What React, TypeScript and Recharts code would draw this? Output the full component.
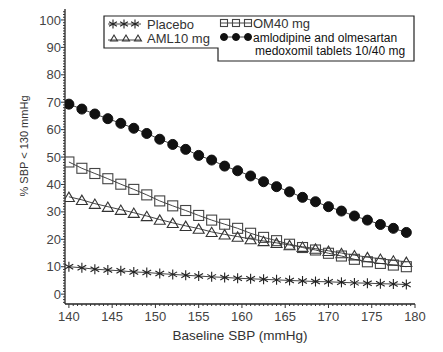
import React from 'react';
import { LineChart, Line, XAxis, YAxis } from 'recharts';

const BASELINE_SBP = [140, 141.5, 143, 144.5, 146, 147.5, 149, 150.5, 152, 153.5, 155, 156.5, 158, 159.5, 161, 162.5, 164, 165.5, 167, 168.5, 170, 171.5, 173, 174.5, 176, 177.5, 179];
const PLACEBO = [10.0, 9.6, 9.1, 8.8, 8.5, 8.1, 7.9, 7.5, 7.2, 6.9, 6.6, 6.3, 6.1, 5.8, 5.6, 5.4, 5.2, 5.0, 4.8, 4.6, 4.5, 4.3, 4.1, 4.0, 3.8, 3.7, 3.5];
const AML10 = [35.5, 34.4, 33.0, 31.9, 30.8, 29.7, 28.5, 27.2, 26.0, 24.9, 23.9, 22.7, 21.8, 21.0, 20.1, 19.4, 18.7, 17.9, 17.3, 16.6, 15.8, 15.0, 14.2, 13.5, 12.9, 12.3, 11.8];
const OM40 = [48.2, 45.9, 44.0, 42.1, 40.1, 38.2, 36.2, 34.0, 32.2, 30.5, 28.7, 27.0, 25.5, 24.0, 22.2, 20.7, 19.5, 18.2, 17.0, 16.1, 14.9, 13.9, 12.7, 11.8, 11.2, 10.6, 10.0];
const COMBO = [69.3, 67.5, 65.7, 64.0, 62.3, 60.5, 58.6, 56.5, 54.6, 52.8, 50.6, 48.9, 46.7, 45.0, 43.1, 41.0, 39.2, 37.3, 35.3, 33.7, 31.9, 30.3, 28.5, 27.0, 25.4, 24.0, 22.5];

const X_TICKS = [140, 145, 150, 155, 160, 165, 170, 175, 180];
const Y_TICKS = [0, 10, 20, 30, 40, 50, 60, 70, 80, 90, 100];
const MINOR_X = Array.from({ length: 81 }, (_, i) => 140 + i * 0.5);
const MINOR_Y = Array.from({ length: 107 }, (_, i) => -3 + i);

const SERIES_NAMES = ['Placebo', 'AML10 mg', 'OM40 mg'];
const COMBO_NAME = ['amlodipine and olmesartan', 'medoxomil tablets 10/40 mg'];
const X_LABEL = 'Baseline SBP (mmHg)';
const Y_LABEL = '% SBP < 130 mmHg';

const data = BASELINE_SBP.map((x, i) => ({
  x,
  placebo: PLACEBO[i],
  aml: AML10[i],
  om: OM40[i],
  combo: COMBO[i],
}));

const FONT = '"Liberation Sans", Arial, sans-serif';
const LINE_COLOR = '#444';

function Star({ cx, cy, r = 5 }: any) {
  const dx = r * 0.87;
  const dy = r * 0.5;
  return (
    <g stroke="#222" strokeWidth={1.1}>
      <line x1={cx} y1={cy - r} x2={cx} y2={cy + r} />
      <line x1={cx - dx} y1={cy - dy} x2={cx + dx} y2={cy + dy} />
      <line x1={cx - dx} y1={cy + dy} x2={cx + dx} y2={cy - dy} />
    </g>
  );
}

function Tri({ cx, cy, s = 11 }: any) {
  const h = s * 0.85;
  return (
    <polygon
      points={`${cx - s / 2},${cy + h / 2} ${cx + s / 2},${cy + h / 2} ${cx},${cy - h / 2}`}
      fill="none"
      stroke="#333"
      strokeWidth={1.1}
    />
  );
}

function Sq({ cx, cy, s = 10 }: any) {
  return <rect x={cx - s / 2} y={cy - s / 2} width={s} height={s} fill="none" stroke="#444" strokeWidth={1.1} />;
}

function Dot({ cx, cy, r = 5 }: any) {
  return <circle cx={cx} cy={cy} r={r} fill="#111" stroke="#111" />;
}

const XTick = (props: any) => {
  const { x, y, payload } = props;
  const v = payload.value;
  const major = X_TICKS.includes(v);
  return (
    <g>
      <line x1={x} y1={y} x2={x} y2={y + (major ? 4 : 2)} stroke="#333" strokeWidth={1} />
      {major && (
        <text x={x} y={y + 16.6} textAnchor="middle" fontSize={13} fontFamily={FONT} fill="#444">
          {v}
        </text>
      )}
    </g>
  );
};

const YTick = (props: any) => {
  const { x, y, payload } = props;
  const v = payload.value;
  const major = Y_TICKS.includes(v);
  return (
    <g>
      <line x1={x - (major ? 4 : 2)} y1={y} x2={x} y2={y} stroke="#333" strokeWidth={1} />
      {major && (
        <text x={x - 4} y={y + 4.6} textAnchor="end" fontSize={13} fontFamily={FONT} fill="#444">
          {v}
        </text>
      )}
    </g>
  );
};

function Overlay() {
  return (
    <svg
      width={443}
      height={352}
      style={{ position: 'absolute', left: 0, top: 0, pointerEvents: 'none' }}
    >
      <path d="M104,16 H414 V61 H218 V48 H104 Z" fill="white" stroke="#222" strokeWidth={1.2} />
      {/* Placebo */}
      <line x1={108} y1={24} x2={141} y2={24} stroke={LINE_COLOR} />
      <Star cx={113} cy={24} r={4.5} />
      <Star cx={124} cy={24} r={4.5} />
      <Star cx={135} cy={24} r={4.5} />
      <text x={147} y={28.5} fontSize={13} fontFamily={FONT} fill="#333">{SERIES_NAMES[0]}</text>
      {/* AML10 */}
      <line x1={108} y1={40} x2={141} y2={40} stroke={LINE_COLOR} />
      <Tri cx={114} cy={38} s={7} />
      <Tri cx={126} cy={38} s={7} />
      <Tri cx={138} cy={38} s={7} />
      <text x={147} y={43} fontSize={13} fontFamily={FONT} fill="#333">{SERIES_NAMES[1]}</text>
      {/* OM40 */}
      <line x1={220} y1={23} x2={251} y2={23} stroke={LINE_COLOR} />
      <Sq cx={224} cy={23} s={7} />
      <Sq cx={236} cy={23} s={7} />
      <Sq cx={248} cy={23} s={7} />
      <text x={253} y={28} fontSize={13} fontFamily={FONT} fill="#333">{SERIES_NAMES[2]}</text>
      {/* Combo */}
      <line x1={220} y1={37} x2={251} y2={37} stroke={LINE_COLOR} />
      <Dot cx={224} cy={37} r={3.5} />
      <Dot cx={236} cy={37} r={3.5} />
      <Dot cx={248} cy={37} r={3.5} />
      <text x={253} y={41.5} fontSize={12} fontFamily={FONT} fill="#111">{COMBO_NAME[0]}</text>
      <text x={255} y={54.5} fontSize={12} fontFamily={FONT} fill="#111">{COMBO_NAME[1]}</text>
      {/* axis labels */}
      <text x={240} y={339.5} textAnchor="middle" fontSize={13.5} fontFamily={FONT} fill="#333">{X_LABEL}</text>
      <text
        x={24}
        y={146}
        transform="rotate(-90 24 146)"
        textAnchor="middle"
        dominantBaseline="central"
        fontSize={11}
        fontFamily={FONT}
        fill="#333"
      >
        {Y_LABEL}
      </text>
    </svg>
  );
}

export default function App() {
  return (
    <div style={{ position: 'absolute', left: 0, top: 0, width: 443, height: 352, background: 'white' }}>
      <LineChart width={443} height={352} data={data} margin={{ top: 9, right: 28, left: 5, bottom: 18 }}>
        <XAxis
          dataKey="x"
          type="number"
          domain={[139.55, 180]}
          allowDataOverflow
          ticks={MINOR_X}
          interval={0}
          tick={<XTick />}
          tickLine={false}
          tickSize={0}
          tickMargin={0}
          height={30}
          axisLine={{ stroke: '#222', strokeWidth: 1.3 }}
        />
        <YAxis
          type="number"
          domain={[-3.6, 104]}
          allowDataOverflow
          ticks={MINOR_Y}
          interval={0}
          tick={<YTick />}
          tickLine={false}
          tickSize={0}
          tickMargin={0}
          width={60}
          axisLine={{ stroke: '#222', strokeWidth: 1.3 }}
        />
        <XAxis
          xAxisId="top"
          orientation="top"
          type="number"
          domain={[0, 1]}
          tick={false}
          tickLine={false}
          height={0}
          axisLine={{ stroke: '#222', strokeWidth: 1.3 }}
        />
        <YAxis
          yAxisId="right"
          orientation="right"
          type="number"
          domain={[0, 1]}
          tick={false}
          tickLine={false}
          width={0}
          axisLine={{ stroke: '#222', strokeWidth: 1.3 }}
        />
        <Line
          dataKey="placebo"
          stroke={LINE_COLOR}
          strokeWidth={1}
          isAnimationActive={false}
          dot={(p: any) => <Star key={`s${p.index}`} cx={p.cx} cy={p.cy} r={5} />}
        />
        <Line
          dataKey="aml"
          stroke={LINE_COLOR}
          strokeWidth={1}
          isAnimationActive={false}
          dot={(p: any) => <Tri key={`t${p.index}`} cx={p.cx} cy={p.cy} s={11} />}
        />
        <Line
          dataKey="om"
          stroke={LINE_COLOR}
          strokeWidth={1}
          isAnimationActive={false}
          dot={(p: any) => <Sq key={`q${p.index}`} cx={p.cx} cy={p.cy} s={10} />}
        />
        <Line
          dataKey="combo"
          stroke={LINE_COLOR}
          strokeWidth={1}
          isAnimationActive={false}
          dot={(p: any) => <Dot key={`d${p.index}`} cx={p.cx} cy={p.cy} r={5} />}
        />
      </LineChart>
      <Overlay />
    </div>
  );
}
